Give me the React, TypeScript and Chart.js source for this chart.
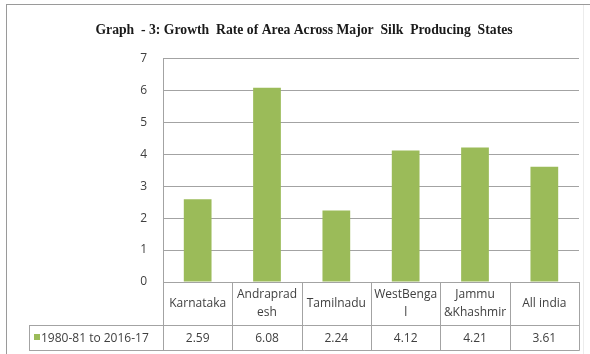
import React, { useEffect, useRef } from "react";
import { Chart, registerables } from "chart.js";

Chart.register(...registerables);

// Chart data
const states: string[][] = [
  ["Karnataka"],
  ["Andraprad", "esh"],
  ["Tamilnadu"],
  ["WestBenga", "l"],
  ["Jammu", "&Khashmir"],
  ["All india"],
];
const seriesLabel = "1980-81 to 2016-17";
const growthRates = [2.59, 6.08, 2.24, 4.12, 4.21, 3.61];
const yMin = 0;
const yMax = 7;
const yStep = 1;
const titleText =
  "Graph  - 3: Growth  Rate of Area Across Major  Silk  Producing  States";

// Styling
const barColor = "#9bbb59";
const lineColor = "#a3a3a3";
const textColor = "#404040";
const tableFont = '12px "Open Sans"';

// Chart frame: white fill plus the outer border lines
const framePlugin = {
  id: "frame",
  beforeDraw(chart: any) {
    const { ctx, width, height } = chart;
    ctx.save();
    ctx.fillStyle = "#ffffff";
    ctx.fillRect(0, 0, width, height);
    ctx.lineWidth = 1;
    ctx.strokeStyle = "#9a9a9a";
    ctx.beginPath();
    ctx.moveTo(6, 4.5);
    ctx.lineTo(width, 4.5);
    ctx.moveTo(6.5, 4);
    ctx.lineTo(6.5, height);
    ctx.stroke();
    ctx.strokeStyle = "#ececec";
    ctx.beginPath();
    ctx.moveTo(583.5, 5);
    ctx.lineTo(583.5, height);
    ctx.stroke();
    ctx.restore();
  },
};

// Data table under the plot: category header row and a value row with legend key
const tablePlugin = {
  id: "dataTable",
  afterDraw(chart: any) {
    const { ctx, chartArea } = chart;
    const xs = chart.scales.x;
    const labels = chart.data.labels as string[][];
    const ds = chart.data.datasets[0];
    const values = ds.data as number[];
    const n = labels.length;
    const top = chartArea.bottom;
    const mid = top + 43;
    const bottom = mid + 25;
    const legendLeft = 29;
    const edges: number[] = [];
    for (let i = 0; i <= n; i++) {
      edges.push(Math.round(xs.getPixelForValue(i - 0.5)) + 0.5);
    }

    ctx.save();
    ctx.strokeStyle = lineColor;
    ctx.lineWidth = 1;
    ctx.beginPath();
    for (const x of edges) {
      ctx.moveTo(x, top);
      ctx.lineTo(x, bottom + 0.5);
    }
    ctx.moveTo(legendLeft + 0.5, mid);
    ctx.lineTo(legendLeft + 0.5, bottom + 0.5);
    ctx.moveTo(legendLeft, Math.round(mid) + 0.5);
    ctx.lineTo(edges[n], Math.round(mid) + 0.5);
    ctx.moveTo(legendLeft, Math.round(bottom) + 0.5);
    ctx.lineTo(edges[n], Math.round(bottom) + 0.5);
    ctx.stroke();

    ctx.fillStyle = textColor;
    ctx.font = tableFont;
    ctx.textAlign = "center";
    ctx.textBaseline = "middle";
    const lineH = 18;
    labels.forEach((lines, i) => {
      const cx = xs.getPixelForValue(i);
      const y0 = (top + mid) / 2 - ((lines.length - 1) * lineH) / 2;
      lines.forEach((t, j) => ctx.fillText(t, cx, y0 + j * lineH));
      ctx.fillText(values[i].toFixed(2), cx, (mid + bottom) / 2 + 1);
    });

    ctx.fillStyle = ds.backgroundColor;
    ctx.fillRect(34, 334, 6, 6);
    ctx.fillStyle = textColor;
    ctx.textAlign = "left";
    ctx.fillText(ds.label, 41, (mid + bottom) / 2 + 1);
    ctx.restore();
  },
};

export default function App() {
  const ref = useRef<HTMLCanvasElement>(null);

  useEffect(() => {
    document.body.style.margin = "0";
    const canvas = ref.current;
    if (!canvas) return;
    const chart = new Chart(canvas, {
      type: "bar",
      data: {
        labels: states,
        datasets: [
          {
            label: seriesLabel,
            data: growthRates,
            backgroundColor: barColor,
            barPercentage: 0.4,
            categoryPercentage: 1,
          },
        ],
      },
      options: {
        responsive: false,
        animation: false,
        layout: { padding: { left: 29, right: 11, top: 0, bottom: 72 } },
        plugins: {
          legend: { display: false },
          tooltip: { enabled: false },
          title: {
            display: true,
            text: titleText,
            color: "#1a1a1a",
            font: { family: '"Liberation Serif", serif', size: 13.7, weight: "bold" },
            padding: { top: 22, bottom: 20 },
          },
        },
        scales: {
          x: { display: false },
          y: {
            min: yMin,
            max: yMax,
            ticks: {
              stepSize: yStep,
              padding: 16,
              color: textColor,
              font: { family: '"Open Sans"', size: 12 },
            },
            grid: { color: lineColor, drawTicks: false },
            border: { display: true, color: lineColor },
            afterFit: (scale: any) => {
              scale.width = 134;
            },
          },
        },
      } as any,
      plugins: [framePlugin, tablePlugin],
    });
    return () => chart.destroy();
  }, []);

  return (
    <div
      style={{
        position: "fixed",
        left: 0,
        top: 0,
        width: 590,
        height: 354,
        background: "#ffffff",
      }}
    >
      <canvas ref={ref} width={590} height={354} style={{ display: "block" }} />
    </div>
  );
}
